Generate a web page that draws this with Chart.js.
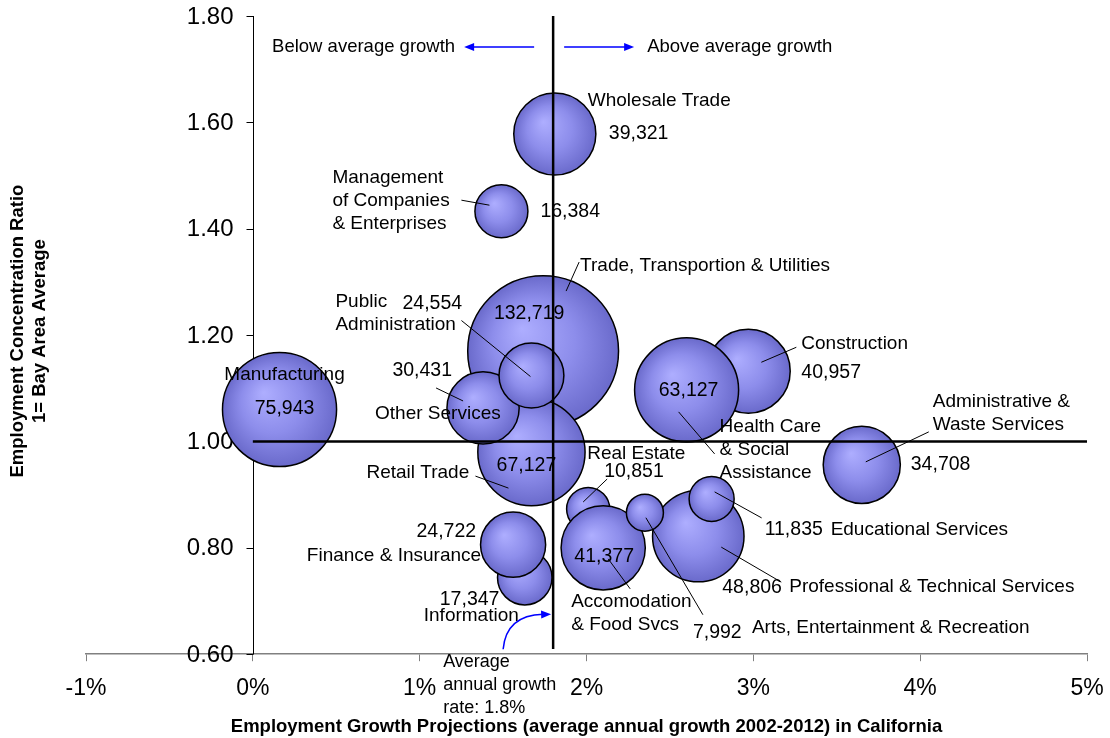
<!DOCTYPE html>
<html>
<head>
<meta charset="utf-8">
<script src="https://cdn.jsdelivr.net/npm/chart.js@4.4.1/dist/chart.umd.min.js"></script>
<style>
  html, body { margin: 0; padding: 0; background: #fff; }
  #wrap { width: 1110px; height: 738px; }
</style>
</head>
<body>
<div id="wrap"><canvas id="bubbleChart" width="1110" height="738"></canvas></div>
<script>
// Industries in drawing order (later entries are painted on top)
const industries = [
    'Trade, Transportion & Utilities',
    'Construction',
    'Health Care\n& Social\nAssistance',
    'Professional & Technical Services',
    'Manufacturing',
    'Retail Trade',
    'Other Services',
    'Public\nAdministration',
    'Real Estate',
    'Accomodation\n& Food Svcs',
    'Arts, Entertainment & Recreation',
    'Educational Services',
    'Information',
    'Finance & Insurance',
    'Wholesale Trade',
    'Management\nof Companies\n& Enterprises',
    'Administrative &\nWaste Services'
];
// average annual growth 2002-2012 (%)
const growth = [1.74, 2.97, 2.60, 2.67, 0.16, 1.67, 1.38, 1.67, 2.01, 2.10, 2.35, 2.75, 1.63, 1.56, 1.81, 1.49, 3.65];
// employment concentration ratio (1 = Bay Area average)
const concentration = [1.170, 1.132, 1.097, 0.822, 1.060, 0.980, 1.063, 1.124, 0.873, 0.800, 0.866, 0.892, 0.744, 0.806, 1.578, 1.433, 0.956];
// jobs
const employment = [132719, 40957, 63127, 48806, 75943, 67127, 30431, 24554, 10851, 41377, 7992, 11835, 17347, 24722, 39321, 16384, 34708];

const xTicks = [-1, 0, 1, 2, 3, 4, 5];
const yTicks = [0.6, 0.8, 1.0, 1.2, 1.4, 1.6, 1.8];
const avgGrowth = 1.8;
const baseRatio = 1.0;

// where each bubble's name / value text goes, offsets in px from the bubble centre
const labelSpots = [
    { name: [37, -85, 'left'], value: [-14, -37, 'center'], leader: [36, -89, 23, -60] },
    { name: [53, -27, 'left'], value: [53, 1, 'left'], leader: [48, -24, 13, -9] },
    { name: [33, 37, 'left'], value: [2, 1, 'center'], leader: [-8, 22, 28, 64] },
    { name: [91, 51, 'left'], value: [24, 51, 'left'], leader: [23, 11, 83, 46] },
    { name: [5, -35, 'center'], value: [5, -1, 'center'] },
    { name: [-165, 21, 'left'], value: [-5, 14, 'center'], leader: [-56, 24, -23, 36] },
    { name: [-108, 6, 'left'], value: [-31, -37, 'right'], leader: [-47, -20, -20, -7] },
    { name: [-196, -74, 'left'], value: [-129, -72, 'left'], leader: [-70, -55, -1, 1] },
    { name: [-1, -55, 'left'], value: [16, -37, 'left'], leader: [19, -30, -5, -7] },
    { name: [-32, 54, 'left'], value: [1, 9, 'center'], leader: [5, 11, 27, 41] },
    { name: [107, 115, 'left'], value: [48, 120, 'left'], leader: [1, 5, 58, 102] },
    { name: [119, 31, 'left'], value: [53, 31, 'left'], leader: [3, -7, 50, 19] },
    { name: [-101, 38, 'left'], value: [-85, 22, 'left'] },
    { name: [-32, 11, 'right'], value: [-37, -13, 'right'] },
    { name: [33, -33, 'left'], value: [54, 0, 'left'] },
    { name: [-169, -33, 'left'], value: [39, 0, 'left'], leader: [-40, -11, -12, -6] },
    { name: [71, -63, 'left'], value: [49, 0, 'left'], leader: [67, -33, 4, -3] }
];

const FONT = "'Liberation Sans', Arial, sans-serif";

function bubbleFill(ctx) {
    if (ctx.type !== 'data') return '#8c8ce8';
    const chart = ctx.chart;
    const px = chart.scales.x.getPixelForValue(ctx.raw.x);
    const py = chart.scales.y.getPixelForValue(ctx.raw.y);
    const r = ctx.raw.r;
    if (!Number.isFinite(px) || !Number.isFinite(py)) return '#8c8ce8';
    const g = chart.ctx.createRadialGradient(px - r * 0.28, py - r * 0.3, 0, px, py, r);
    g.addColorStop(0, '#aeaeff');
    g.addColorStop(0.55, '#8d8deb');
    g.addColorStop(1, '#6a6acb');
    return g;
}

function arrowHead(c, x, y, angle, len, half) {
    c.save();
    c.translate(x, y);
    c.rotate(angle);
    c.beginPath();
    c.moveTo(0, 0);
    c.lineTo(-len, -half);
    c.lineTo(-len, half);
    c.closePath();
    c.fill();
    c.restore();
}

// y axis sits on the 0% line, so it is painted here from the y scale
const zeroAxis = {
    id: 'zeroAxis',
    beforeDatasetsDraw(chart) {
        const c = chart.ctx;
        const area = chart.chartArea;
        const ys = chart.scales.y;
        const ax = Math.round(chart.scales.x.getPixelForValue(0)) + 0.5;
        c.save();
        c.strokeStyle = '#000';
        c.lineWidth = 1;
        c.beginPath();
        c.moveTo(ax, area.top);
        c.lineTo(ax, area.bottom);
        yTicks.forEach(v => {
            const py = Math.round(ys.getPixelForValue(v)) + 0.5;
            c.moveTo(ax, py);
            c.lineTo(ax - 7, py);
        });
        c.stroke();
        c.fillStyle = '#000';
        c.font = '24px ' + FONT;
        c.textAlign = 'right';
        c.textBaseline = 'middle';
        yTicks.forEach(v => c.fillText(v.toFixed(2), ax - 20, ys.getPixelForValue(v) + 1));
        c.restore();
    }
};

// names, values and leader lines next to the bubbles
const bubbleLabels = {
    id: 'bubbleLabels',
    afterDatasetsDraw(chart) {
        const c = chart.ctx;
        const meta = chart.getDatasetMeta(2);
        c.save();
        c.fillStyle = '#000';
        c.strokeStyle = '#000';
        c.lineWidth = 1;
        c.textBaseline = 'middle';
        meta.data.forEach((el, i) => {
            const spot = labelSpots[i];
            const cx = el.x, cy = el.y;
            if (spot.leader) {
                const l = spot.leader;
                c.beginPath();
                c.moveTo(cx + l[0], cy + l[1]);
                c.lineTo(cx + l[2], cy + l[3]);
                c.stroke();
            }
            c.font = '19px ' + FONT;
            c.textAlign = spot.name[2];
            industries[i].split('\n').forEach((line, k) => {
                c.fillText(line, cx + spot.name[0], cy + spot.name[1] + k * 23);
            });
            c.font = '19.5px ' + FONT;
            c.textAlign = spot.value[2];
            c.fillText(employment[i].toLocaleString('en-US'), cx + spot.value[0], cy + spot.value[1]);
        });
        c.restore();
    },
    afterDraw(chart) {
        const c = chart.ctx;
        const area = chart.chartArea;
        const L = chart.scales.x.getPixelForValue(avgGrowth);
        c.save();

        // growth direction arrows at the top
        const ay = area.top + 31;
        c.strokeStyle = '#0000ff';
        c.fillStyle = '#0000ff';
        c.lineWidth = 1.5;
        c.beginPath();
        c.moveTo(L - 19, ay); c.lineTo(L - 82, ay);
        c.moveTo(L + 11, ay); c.lineTo(L + 74, ay);
        c.stroke();
        arrowHead(c, L - 89, ay, Math.PI, 10, 4);
        arrowHead(c, L + 81, ay, 0, 10, 4);

        // curved pointer to the average line
        c.beginPath();
        c.moveTo(L - 50, area.bottom - 5);
        c.quadraticCurveTo(L - 47, area.bottom - 39, L - 10, area.bottom - 40);
        c.stroke();
        arrowHead(c, L - 2, area.bottom - 40, -0.03, 10, 4);

        c.fillStyle = '#000';
        c.font = '18.5px ' + FONT;
        c.textBaseline = 'middle';
        c.textAlign = 'right';
        c.fillText('Below average growth', L - 98, ay);
        c.textAlign = 'left';
        c.fillText('Above average growth', L + 94, ay);

        c.font = '18px ' + FONT;
        const avgLines = ['Average', 'annual growth', 'rate: ' + avgGrowth.toFixed(1) + '%'];
        avgLines.forEach((t, k) => c.fillText(t, L - 110, area.bottom + 8 + k * 23));

        // y axis title, two rotated lines
        c.font = 'bold 18.5px ' + FONT;
        c.textAlign = 'center';
        c.translate(0, (area.top + area.bottom) / 2 - 4);
        c.rotate(-Math.PI / 2);
        c.fillText('Employment Concentration Ratio', 0, 18);
        c.fillText('1= Bay Area Average', 0, 40);
        c.restore();
    }
};

const bubbles = industries.map((name, i) => ({
    x: growth[i],
    y: concentration[i],
    r: Math.sqrt(employment[i]) * 0.207
}));

const chart = new Chart(document.getElementById('bubbleChart'), {
    type: 'bubble',
    data: {
        datasets: [
            {
                type: 'line',
                data: [{ x: avgGrowth, y: yTicks[yTicks.length - 1] }, { x: avgGrowth, y: 0.61 }],
                borderColor: '#000',
                borderWidth: 2.5,
                pointRadius: 0,
                order: 0
            },
            {
                type: 'line',
                data: [{ x: 0, y: baseRatio }, { x: xTicks[xTicks.length - 1], y: baseRatio }],
                borderColor: '#000',
                borderWidth: 2.5,
                pointRadius: 0,
                order: 0
            },
            {
                data: bubbles,
                backgroundColor: bubbleFill,
                borderColor: '#000',
                borderWidth: 1.5,
                order: 1
            }
        ]
    },
    options: {
        responsive: false,
        animation: false,
        devicePixelRatio: 1,
        events: [],
        layout: { autoPadding: false, padding: { left: 86, right: 23, top: 16, bottom: 0 } },
        plugins: {
            legend: { display: false },
            tooltip: { enabled: false }
        },
        scales: {
            x: {
                type: 'linear',
                min: xTicks[0],
                max: xTicks[xTicks.length - 1],
                afterBuildTicks: s => { s.ticks = xTicks.map(v => ({ value: v })); },
                // end labels fit inside the outer padding already
                afterFit: s => { s.paddingLeft = 0; s.paddingRight = 0; },
                border: { color: '#808080', width: 1.5 },
                grid: { drawOnChartArea: false, tickLength: 7, color: '#808080' },
                ticks: {
                    padding: 14,
                    color: '#000',
                    font: { family: FONT, size: 23 },
                    callback: v => v + '%'
                },
                title: {
                    display: true,
                    text: 'Employment Growth Projections (average annual growth 2002-2012) in California',
                    color: '#000',
                    font: { family: FONT, size: 18.5, weight: 'bold' },
                    padding: { top: -1, bottom: 0 }
                }
            },
            y: {
                type: 'linear',
                display: false,
                min: yTicks[0],
                max: yTicks[yTicks.length - 1]
            }
        }
    },
    plugins: [zeroAxis, bubbleLabels]
});
</script>
</body>
</html>
